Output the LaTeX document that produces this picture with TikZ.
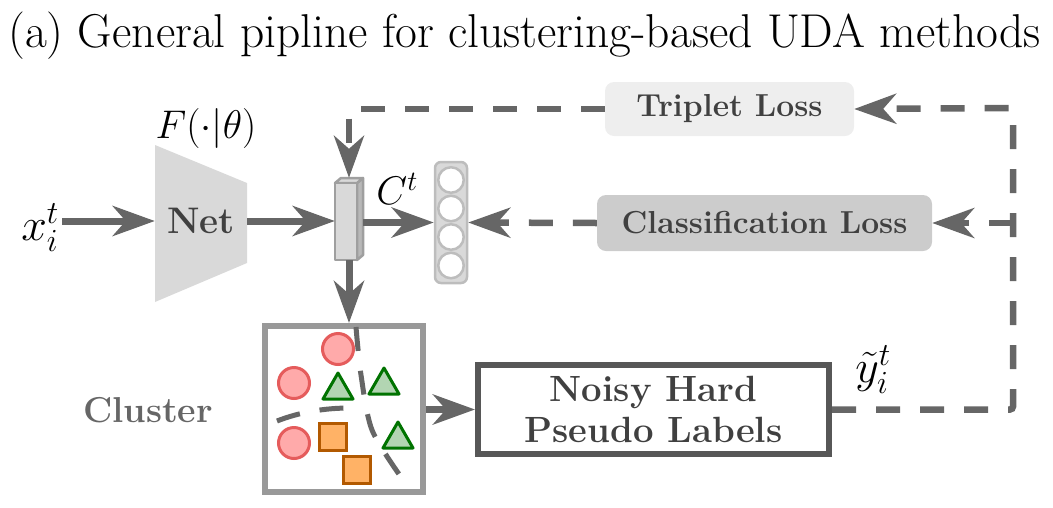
\RequirePackage{fix-cm}
\documentclass[tikz,border=0pt]{standalone}
\usepackage{fontspec}
\usepackage{color}
\usepackage{tikz}
\usetikzlibrary{arrows.meta,shadows,positioning}

\definecolor{lgray}{HTML}{666666}
\definecolor{dtext}{HTML}{404040}
\definecolor{netgray}{HTML}{D9D9D9}
\definecolor{edgegray}{HTML}{BDBDBD}

\begin{document}
\begin{tikzpicture}[x=1pt,y=-1pt]
  \tikzstyle{arr}=[-{Stealth[length=42pt,width=30pt,inset=13pt]},draw=lgray,line width=7pt]
  \tikzstyle{darr}=[arr,dash pattern=on 24pt off 20pt,line width=6.5pt]
  \tikzstyle{lossbox}=[rounded corners=9pt,inner sep=0pt,text=dtext,font={\bfseries\fontsize{31.8}{36}\selectfont}]
  \tikzstyle{neuron}=[circle,fill=white,draw=edgegray,line width=2.5pt,inner sep=0pt,minimum size=25.5pt]
  \tikzstyle{redpt}=[fill=red!35!white!85!pink,draw=red!60!white!90!black,line width=3pt]
  \tikzstyle{greentri}=[fill=green!45!black!30!white,draw=green!45!black,line width=3pt,line join=round]
  \tikzstyle{orangesq}=[fill=orange!60!white,draw=orange!70!black,line width=3pt]
  \tikzstyle{sep}=[draw=lgray,line width=5pt,dash pattern=on 24pt off 20pt]
  \useasboundingbox (0,0) rectangle (1053,507);

  \node[anchor=base west,inner sep=0pt,font=\fontsize{47.5}{56}\selectfont] (title) at (8,47)
    {(a) General pipline for clustering-based UDA methods};

  % network
  \node[font=\fontsize{46}{54}\selectfont] (xin) at (40,228) {$x_i^t$};
  \fill[netgray] (155,145) -- (247,183) -- (247,263) -- (155,302) -- cycle;
  \node[minimum width=92pt,minimum height=157pt,inner sep=0pt,text=dtext,
    font={\bfseries\fontsize{37}{44}\selectfont}] (net) at (201,221) {Net};
  \node[font=\fontsize{40}{48}\selectfont] (flabel) at (206,128) {$F(\cdot|\theta)$};

  \node[minimum width=28pt,minimum height=82pt,inner sep=0pt] (feat) at (349,219) {};
  \filldraw[fill=netgray!85!black,draw=gray!75,line width=2.5pt,line join=round]
    (357,183) -- (363,178) -- (363,255) -- (357,260) -- cycle;
  \filldraw[fill=netgray,draw=gray!75,line width=2.5pt,line join=round]
    (335,183) -- (341,178) -- (363,178) -- (357,183) -- cycle;
  \filldraw[fill=netgray,draw=gray!75,line width=2.5pt,line join=round]
    (335,183) rectangle (357,260);

  \node[rounded corners=6pt,minimum width=32pt,minimum height=121pt,inner sep=0pt,
    fill=netgray,draw=edgegray,line width=2.5pt] (col) at (451,222.5) {};
  \foreach \i/\y in {1/180,2/208.5,3/237,4/265.5}
    \node[neuron] (c\i) at (451,\y) {};
  \node[font=\fontsize{40}{48}\selectfont] (ct) at (397,189) {$C^t$};

  % losses
  \node[lossbox,fill=gray!13,minimum width=249pt,minimum height=54pt] (trip) at (729.5,109) {Triplet Loss};
  \node[lossbox,fill=gray!40,minimum width=335pt,minimum height=56pt] (cls) at (764.5,223) {Classification Loss};
  \coordinate (tr) at (1013,108);

  % cluster
  \node[draw=gray!80,fill=white,line width=6pt,minimum width=158pt,minimum height=166pt,
    drop shadow={opacity=0.3,shadow xshift=3pt,shadow yshift=-3pt}] (clu) at (344,409) {};
  \node[text=lgray,font={\bfseries\fontsize{36}{42}\selectfont}] (clabel) at (148,410) {Cluster};
  \foreach \cx/\cy in {338/349,294/383,294/443}
    \draw[redpt] (\cx,\cy) circle (15.5);
  \foreach \tx/\ty in {338/373,384/368,398/422}
    \draw[greentri] (\tx,\ty) -- ++(15,26) -- ++(-30,0) -- cycle;
  \foreach \sx/\sy in {318/422,342/455}
    \draw[orangesq] (\sx+1.5,\sy+1.5) rectangle ++(27,27);
  \draw[sep] (277,421) .. controls (300,412) and (325,408) .. (350,408);
  \draw[sep] plot[smooth] coordinates {(356,327) (361,375) (372,430) (401,477)};

  \node[draw=lgray!85!black,line width=6pt,minimum width=351pt,minimum height=89pt,
    align=center,text=dtext,font={\bfseries\fontsize{36.5}{41}\selectfont}] (noisy) at (653.5,409.5)
    {Noisy Hard\\Pseudo Labels};
  \node[font=\fontsize{46}{54}\selectfont] (yt) at (873,370) {$\tilde{y}_i^t$};

  % edges
  \draw[arr] (xin.east |- net.west) -- (net.west);
  \draw[arr] (net.east) -- (net.east -| feat.west);
  \draw[arr] (feat.east |- col.west) -- (col.west);
  \draw[darr] (cls.west) -- (col.east);
  \draw[darr,rounded corners=3pt] (trip.west) -| (feat.north);
  \draw[arr] (feat.south) -- (feat.south |- clu.north);
  \draw[arr] (clu.east |- noisy.west) -- (noisy.west);
  \draw[darr,rounded corners=3pt] (noisy.east) -| (tr) -- (trip.east);
  \draw[darr] (tr |- cls.east) -- (cls.east);

\end{tikzpicture}
\end{document}
